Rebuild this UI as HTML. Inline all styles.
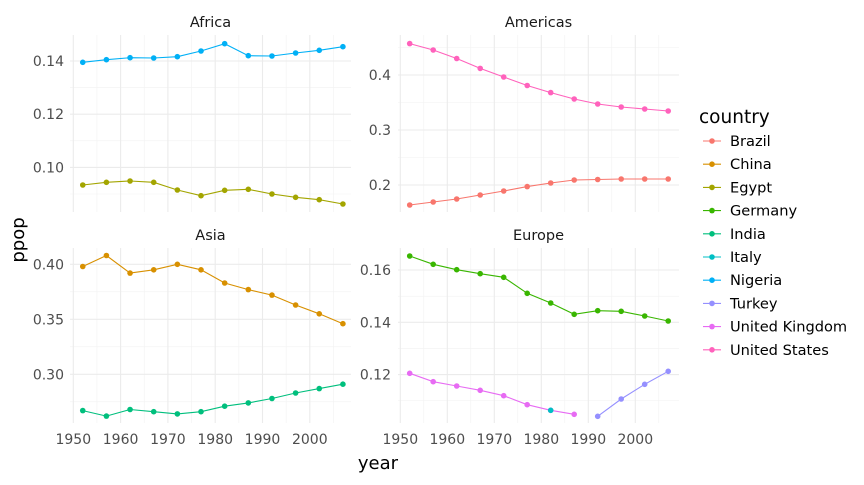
<!DOCTYPE html>
<html><head><meta charset="utf-8"><style>
body{margin:0;background:#fff}
svg text{font-family:"DejaVu Sans","Liberation Sans",sans-serif}
</style></head><body>
<svg id="s" width="864" height="480" xmlns="http://www.w3.org/2000/svg"></svg>
<script>
const s=document.getElementById('s');let h='';
const yrs=[1952,1957,1962,1967,1972,1977,1982,1987,1992,1997,2002,2007];
const C={Brazil:'#F8766D',China:'#D89000',Egypt:'#A3A500',Germany:'#39B600',India:'#00BF7D',Italy:'#00BFC4',Nigeria:'#00B0F6',Turkey:'#9590FF','United Kingdom':'#E76BF3','United States':'#FF62BC'};
const panels=[
 {t:'Africa',x0:70,x1:351,y0:35,y1:212,xa:73.3,xs:4.73,v0:0.14,p0:61,k:2660,maj:[0.10,0.12,0.14],min:[0.09,0.11,0.13],lab:['0.10','0.12','0.14'],tx:64,axis:false},
 {t:'Americas',x0:398,x1:679,y0:35,y1:212,xa:400.3,xs:4.7,v0:0.4,p0:75,k:550,maj:[0.2,0.3,0.4],min:[0.15,0.25,0.35,0.45],lab:['0.2','0.3','0.4'],tx:391,axis:false},
 {t:'Asia',x0:70,x1:351,y0:248,y1:423,xa:73.3,xs:4.73,v0:0.4,p0:264.3,k:1100,maj:[0.30,0.35,0.40],min:[0.275,0.325,0.375],lab:['0.30','0.35','0.40'],tx:64,axis:true},
 {t:'Europe',x0:398,x1:679,y0:248,y1:423,xa:400.3,xs:4.7,v0:0.16,p0:270,k:2615,maj:[0.12,0.14,0.16],min:[0.11,0.13,0.15],lab:['0.12','0.14','0.16'],tx:391,axis:true}];
panels.forEach(p=>{
 const Y=v=>p.p0+(p.v0-v)*p.k;
 p.min.forEach(v=>{const y=Y(v);if(y>p.y0&&y<p.y1)h+=`<line x1="${p.x0}" x2="${p.x1}" y1="${y}" y2="${y}" stroke="#f2f2f2" stroke-width="0.6"/>`});
 for(let yr=1955;yr<=2005;yr+=10){const x=p.xa+(yr-1950)*p.xs;h+=`<line x1="${x}" x2="${x}" y1="${p.y0}" y2="${p.y1}" stroke="#f2f2f2" stroke-width="0.6"/>`}
 p.maj.forEach((v,i)=>{const y=Y(v);h+=`<line x1="${p.x0}" x2="${p.x1}" y1="${y}" y2="${y}" stroke="#ebebeb" stroke-width="1.1"/><text x="${p.tx}" y="${y+5}" text-anchor="end" font-size="14" fill="#4d4d4d">${p.lab[i]}</text>`});
 for(let yr=1950;yr<=2000;yr+=10){const x=p.xa+(yr-1950)*p.xs;h+=`<line x1="${x}" x2="${x}" y1="${p.y0}" y2="${p.y1}" stroke="#ebebeb" stroke-width="1.1"/>`;if(p.axis)h+=`<text x="${x}" y="444" text-anchor="middle" font-size="14" fill="#4d4d4d">${yr}</text>`}
 h+=`<text x="${(p.x0+p.x1)/2}" y="${p.y0-8}" text-anchor="middle" font-size="14.5" fill="#1a1a1a">${p.t}</text>`;
});
function series(pi,col,ys,start){const p=panels[pi];start=start||0;let pts=ys.map((y,i)=>[p.xa+(yrs[i+start]-1950)*p.xs,y]);
 h+=`<polyline fill="none" stroke="${col}" stroke-width="1.1" points="${pts.map(q=>q.join(',')).join(' ')}"/>`;pts.forEach(q=>h+=`<circle cx="${q[0]}" cy="${q[1]}" r="2.8" fill="${col}"/>`);}
series(0,C.Nigeria,[62.3,59.7,57.7,58,56.7,51,43.7,55.7,56,53,50.3,46.7]);
series(0,C.Egypt,[185,182.3,181,182.3,190,195.7,190.3,189.3,194,197.3,199.7,204]);
series(1,C['United States'],[43.6,50,58.5,68.4,77,85.5,92.6,99,104,107,109,111]);
series(1,C.Brazil,[205,202,199,195,191,186.6,183,180,179.5,179,179,179]);
const A=v=>264.3+(0.4-v)*1100;
series(2,C.China,[.398,.408,.392,.395,.400,.395,.383,.377,.372,.363,.355,.346].map(A));
series(2,C.India,[.267,.262,.268,.266,.264,.266,.271,.274,.278,.283,.287,.291].map(A));
series(3,C.Germany,[256,264.3,269.7,273.7,277.3,293.3,303,314.3,310.7,311.3,316,321]);
series(3,C['United Kingdom'],[373.3,381.7,386,390.3,395.7,404.7,410.3,414.3]);
series(3,C.Turkey,[416.3,399,384.3,371.3],8);
h+=`<circle cx="${400.3+32*4.7}" cy="410.3" r="2.8" fill="${C.Italy}"/>`;
h+=`<text x="378" y="469" text-anchor="middle" font-size="18" fill="#000">year</text>`;
h+=`<text transform="translate(24,240) rotate(-90)" text-anchor="middle" font-size="18" fill="#000">ppop</text>`;
h+=`<text x="699" y="123" font-size="18.5" fill="#000">country</text>`;
Object.keys(C).forEach((n,i)=>{const y=141+i*23.2;h+=`<line x1="703" x2="721" y1="${y}" y2="${y}" stroke="${C[n]}" stroke-width="1.1"/><circle cx="712" cy="${y}" r="2.8" fill="${C[n]}"/><text x="730" y="${y+5}" font-size="14.6" fill="#000">${n}</text>`});
s.innerHTML=h;
</script>
</body></html>
